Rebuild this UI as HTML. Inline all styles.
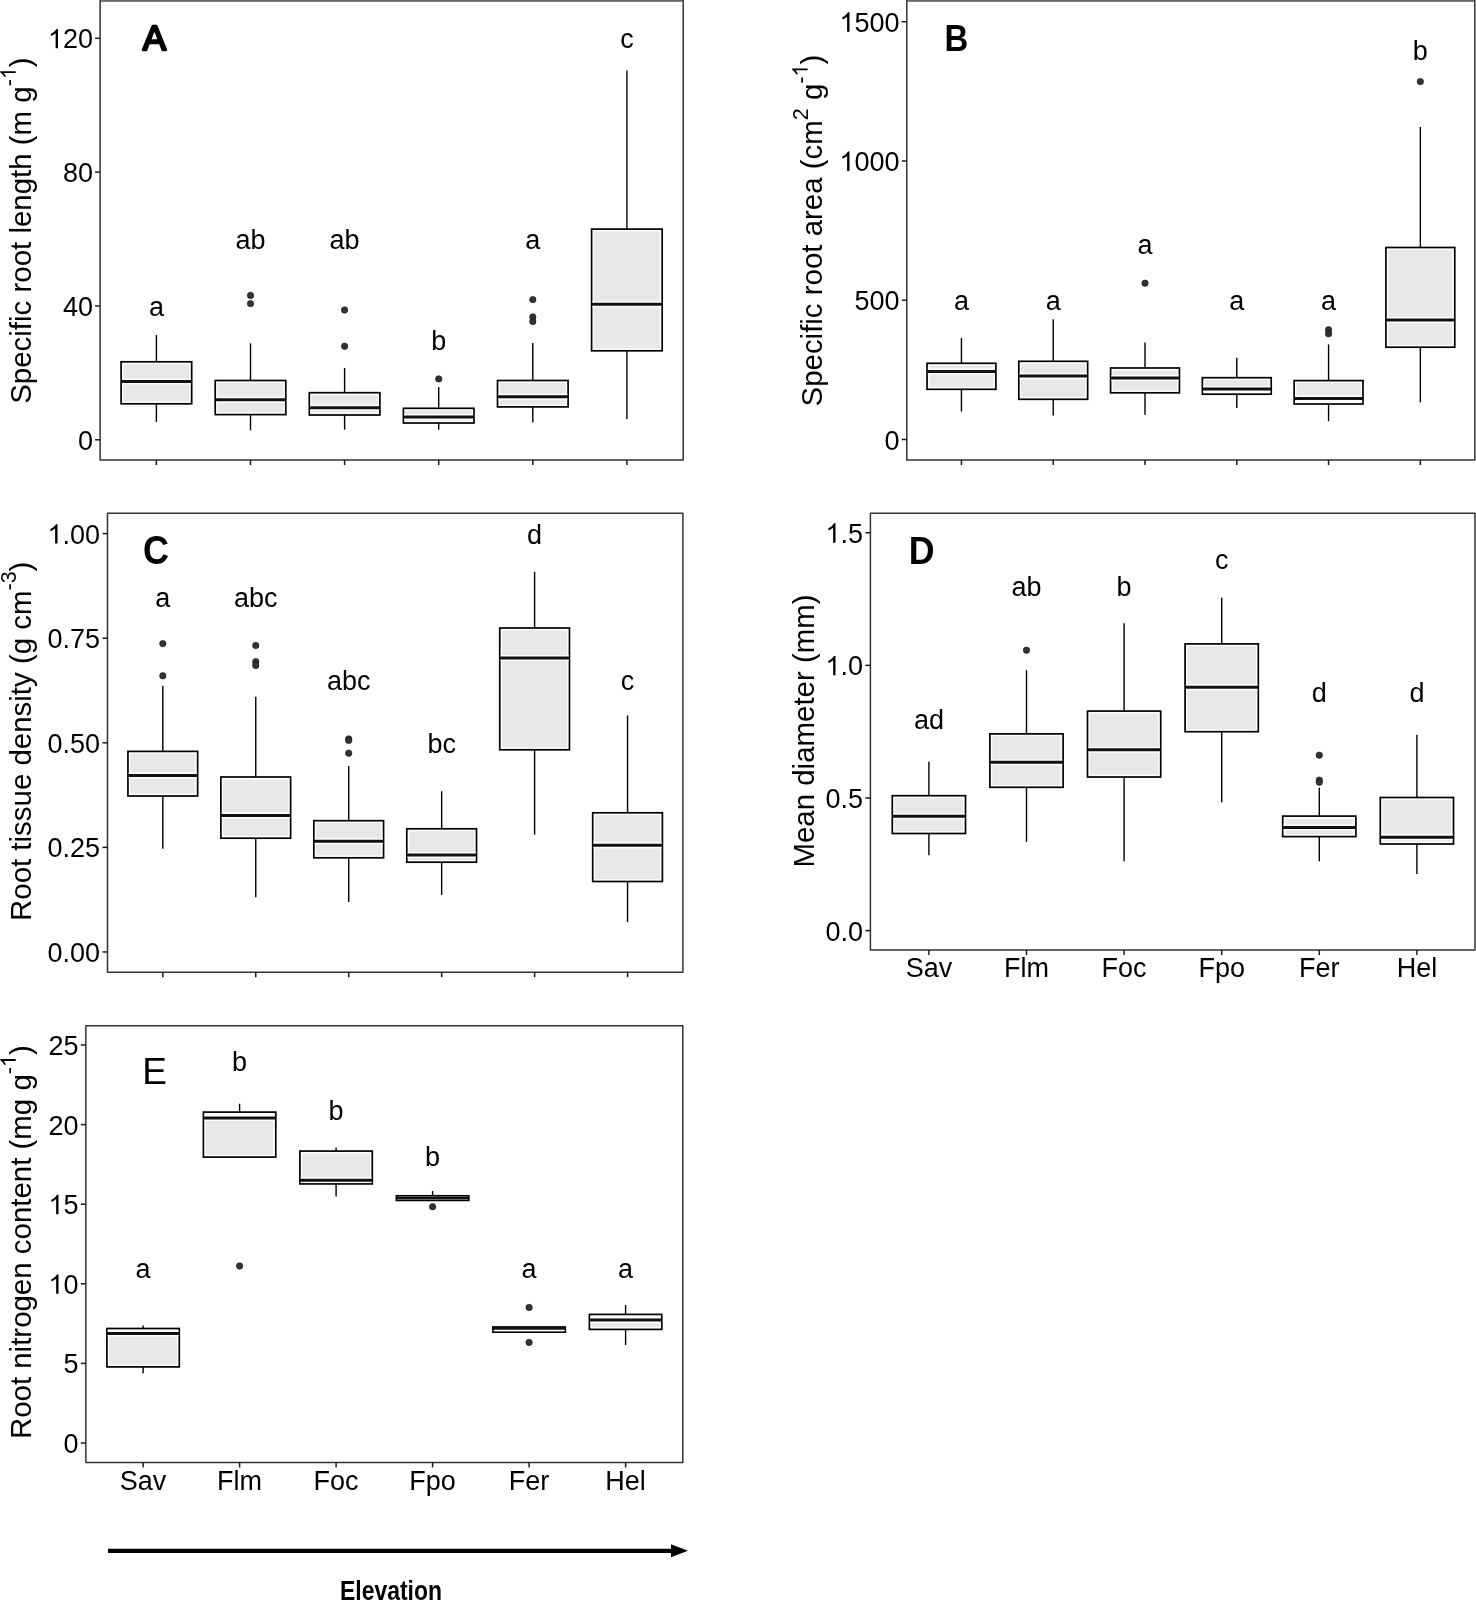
<!DOCTYPE html><html><head><meta charset="utf-8"><style>html,body{margin:0;padding:0;background:#fff;}svg{display:block;filter:grayscale(1)}text{font-family:"Liberation Sans",sans-serif;fill:#000}</style></head><body>
<svg width="1476" height="1601" viewBox="0 0 1476 1601">
<rect width="1476" height="1601" fill="#fff"/>
<g id="pA">
<line x1="156.4" y1="335" x2="156.4" y2="361.8" stroke="#000" stroke-width="1.4"/>
<line x1="156.4" y1="403.8" x2="156.4" y2="421.9" stroke="#000" stroke-width="1.4"/>
<rect x="121.11" y="361.8" width="70.57" height="42" fill="#fff" stroke="#000" stroke-width="1.7"/>
<rect x="123.46" y="364.15" width="65.87" height="37.3" fill="#e8e8e8"/>
<rect x="121.96" y="378.4" width="68.87" height="6" fill="#fff"/>
<line x1="121.11" y1="381.4" x2="191.69" y2="381.4" stroke="#111" stroke-width="3.0"/>
<text x="156.4" y="316" font-size="27" text-anchor="middle">a</text>
<line x1="250.5" y1="343.3" x2="250.5" y2="380.5" stroke="#000" stroke-width="1.4"/>
<line x1="250.5" y1="414.6" x2="250.5" y2="430.3" stroke="#000" stroke-width="1.4"/>
<rect x="215.21" y="380.5" width="70.57" height="34.1" fill="#fff" stroke="#000" stroke-width="1.7"/>
<rect x="217.56" y="382.85" width="65.87" height="29.4" fill="#e8e8e8"/>
<rect x="216.06" y="396.8" width="68.87" height="6" fill="#fff"/>
<line x1="215.21" y1="399.8" x2="285.79" y2="399.8" stroke="#111" stroke-width="3.0"/>
<circle cx="250.5" cy="295.4" r="3.2" fill="#333" stroke="#111" stroke-width="0.6"/>
<circle cx="250.5" cy="303.6" r="3.2" fill="#333" stroke="#111" stroke-width="0.6"/>
<text x="250.5" y="249" font-size="27" text-anchor="middle">ab</text>
<line x1="344.6" y1="367.9" x2="344.6" y2="392.7" stroke="#000" stroke-width="1.4"/>
<line x1="344.6" y1="415" x2="344.6" y2="429.7" stroke="#000" stroke-width="1.4"/>
<rect x="309.31" y="392.7" width="70.57" height="22.3" fill="#fff" stroke="#000" stroke-width="1.7"/>
<rect x="311.66" y="395.05" width="65.87" height="17.6" fill="#e8e8e8"/>
<rect x="310.16" y="404.7" width="68.87" height="6" fill="#fff"/>
<line x1="309.31" y1="407.7" x2="379.89" y2="407.7" stroke="#111" stroke-width="3.0"/>
<circle cx="344.6" cy="310" r="3.2" fill="#333" stroke="#111" stroke-width="0.6"/>
<circle cx="344.6" cy="346.3" r="3.2" fill="#333" stroke="#111" stroke-width="0.6"/>
<text x="344.6" y="249" font-size="27" text-anchor="middle">ab</text>
<line x1="438.7" y1="387" x2="438.7" y2="408.3" stroke="#000" stroke-width="1.4"/>
<line x1="438.7" y1="423" x2="438.7" y2="429.7" stroke="#000" stroke-width="1.4"/>
<rect x="403.41" y="408.3" width="70.57" height="14.7" fill="#fff" stroke="#000" stroke-width="1.7"/>
<rect x="405.76" y="410.65" width="65.87" height="10" fill="#e8e8e8"/>
<rect x="404.26" y="414.1" width="68.87" height="6" fill="#fff"/>
<line x1="403.41" y1="417.1" x2="473.99" y2="417.1" stroke="#111" stroke-width="3.0"/>
<circle cx="438.7" cy="378.9" r="3.2" fill="#333" stroke="#111" stroke-width="0.6"/>
<text x="438.7" y="349.5" font-size="27" text-anchor="middle">b</text>
<line x1="532.8" y1="342.9" x2="532.8" y2="380.5" stroke="#000" stroke-width="1.4"/>
<line x1="532.8" y1="406.9" x2="532.8" y2="422.6" stroke="#000" stroke-width="1.4"/>
<rect x="497.51" y="380.5" width="70.57" height="26.4" fill="#fff" stroke="#000" stroke-width="1.7"/>
<rect x="499.86" y="382.85" width="65.87" height="21.7" fill="#e8e8e8"/>
<rect x="498.36" y="393.7" width="68.87" height="6" fill="#fff"/>
<line x1="497.51" y1="396.7" x2="568.09" y2="396.7" stroke="#111" stroke-width="3.0"/>
<circle cx="532.8" cy="299.6" r="3.2" fill="#333" stroke="#111" stroke-width="0.6"/>
<circle cx="532.8" cy="316.9" r="3.2" fill="#333" stroke="#111" stroke-width="0.6"/>
<circle cx="532.8" cy="321.5" r="3.2" fill="#333" stroke="#111" stroke-width="0.6"/>
<text x="532.8" y="249" font-size="27" text-anchor="middle">a</text>
<line x1="626.9" y1="70.5" x2="626.9" y2="229.1" stroke="#000" stroke-width="1.4"/>
<line x1="626.9" y1="350.8" x2="626.9" y2="418.9" stroke="#000" stroke-width="1.4"/>
<rect x="591.61" y="229.1" width="70.57" height="121.7" fill="#fff" stroke="#000" stroke-width="1.7"/>
<rect x="593.96" y="231.45" width="65.87" height="117" fill="#e8e8e8"/>
<rect x="592.46" y="301.3" width="68.87" height="6" fill="#fff"/>
<line x1="591.61" y1="304.3" x2="662.19" y2="304.3" stroke="#111" stroke-width="3.0"/>
<text x="626.9" y="48" font-size="27" text-anchor="middle">c</text>
<rect x="100.1" y="0.6" width="583.1" height="459.5" fill="none" stroke="#333" stroke-width="1.5" stroke-linejoin="round"/>
<line x1="100.85" y1="0.9" x2="682.45" y2="0.9" stroke="#6a6a6a" stroke-width="1.8"/>
<line x1="95.1" y1="439.8" x2="100.1" y2="439.8" stroke="#1a1a1a" stroke-width="1.5"/>
<text class="one" x="93" y="449.8" font-size="27" text-anchor="end">0</text>
<line x1="95.1" y1="305.97" x2="100.1" y2="305.97" stroke="#1a1a1a" stroke-width="1.5"/>
<text class="one" x="93" y="315.97" font-size="27" text-anchor="end">40</text>
<line x1="95.1" y1="172.13" x2="100.1" y2="172.13" stroke="#1a1a1a" stroke-width="1.5"/>
<text class="one" x="93" y="182.13" font-size="27" text-anchor="end">80</text>
<line x1="95.1" y1="38.3" x2="100.1" y2="38.3" stroke="#1a1a1a" stroke-width="1.5"/>
<text class="one" x="93" y="48.3" font-size="27" text-anchor="end"> 20</text>
<line x1="156.4" y1="460.1" x2="156.4" y2="465.1" stroke="#1a1a1a" stroke-width="1.5"/>
<line x1="250.5" y1="460.1" x2="250.5" y2="465.1" stroke="#1a1a1a" stroke-width="1.5"/>
<line x1="344.6" y1="460.1" x2="344.6" y2="465.1" stroke="#1a1a1a" stroke-width="1.5"/>
<line x1="438.7" y1="460.1" x2="438.7" y2="465.1" stroke="#1a1a1a" stroke-width="1.5"/>
<line x1="532.8" y1="460.1" x2="532.8" y2="465.1" stroke="#1a1a1a" stroke-width="1.5"/>
<line x1="626.9" y1="460.1" x2="626.9" y2="465.1" stroke="#1a1a1a" stroke-width="1.5"/>
<text class="one" transform="translate(30.5,230.6) rotate(-90)" font-size="29.45" text-anchor="middle">Specific root length (m g<tspan dy="-14.8" font-size="21.5">- </tspan><tspan dy="14.8">)</tspan></text>
<text transform="translate(142.8,49.9) scale(1,1.0)" font-size="35" font-weight="normal" stroke="#000" stroke-width="2.3" stroke-linejoin="round">A</text>
</g>
<g id="pB">
<line x1="961.45" y1="337.9" x2="961.45" y2="363.3" stroke="#000" stroke-width="1.4"/>
<line x1="961.45" y1="389.3" x2="961.45" y2="411.5" stroke="#000" stroke-width="1.4"/>
<rect x="927.03" y="363.3" width="68.84" height="26" fill="#fff" stroke="#000" stroke-width="1.7"/>
<rect x="929.38" y="365.65" width="64.14" height="21.3" fill="#e8e8e8"/>
<rect x="927.88" y="368.4" width="67.14" height="6" fill="#fff"/>
<line x1="927.03" y1="371.4" x2="995.87" y2="371.4" stroke="#111" stroke-width="3.0"/>
<text x="961.45" y="310" font-size="27" text-anchor="middle">a</text>
<line x1="1053.23" y1="319.2" x2="1053.23" y2="361.3" stroke="#000" stroke-width="1.4"/>
<line x1="1053.23" y1="399.3" x2="1053.23" y2="415.5" stroke="#000" stroke-width="1.4"/>
<rect x="1018.81" y="361.3" width="68.84" height="38" fill="#fff" stroke="#000" stroke-width="1.7"/>
<rect x="1021.16" y="363.65" width="64.14" height="33.3" fill="#e8e8e8"/>
<rect x="1019.66" y="373.1" width="67.14" height="6" fill="#fff"/>
<line x1="1018.81" y1="376.1" x2="1087.65" y2="376.1" stroke="#111" stroke-width="3.0"/>
<text x="1053.23" y="310" font-size="27" text-anchor="middle">a</text>
<line x1="1145.01" y1="342.6" x2="1145.01" y2="368" stroke="#000" stroke-width="1.4"/>
<line x1="1145.01" y1="392.8" x2="1145.01" y2="414.7" stroke="#000" stroke-width="1.4"/>
<rect x="1110.59" y="368" width="68.84" height="24.8" fill="#fff" stroke="#000" stroke-width="1.7"/>
<rect x="1112.94" y="370.35" width="64.14" height="20.1" fill="#e8e8e8"/>
<rect x="1111.44" y="375.1" width="67.14" height="6" fill="#fff"/>
<line x1="1110.59" y1="378.1" x2="1179.43" y2="378.1" stroke="#111" stroke-width="3.0"/>
<circle cx="1145.01" cy="283.2" r="3.2" fill="#333" stroke="#111" stroke-width="0.6"/>
<text x="1145.01" y="254.3" font-size="27" text-anchor="middle">a</text>
<line x1="1236.79" y1="357.8" x2="1236.79" y2="377.7" stroke="#000" stroke-width="1.4"/>
<line x1="1236.79" y1="394.2" x2="1236.79" y2="408" stroke="#000" stroke-width="1.4"/>
<rect x="1202.37" y="377.7" width="68.84" height="16.5" fill="#fff" stroke="#000" stroke-width="1.7"/>
<rect x="1204.72" y="380.05" width="64.14" height="11.8" fill="#e8e8e8"/>
<rect x="1203.22" y="386.1" width="67.14" height="6" fill="#fff"/>
<line x1="1202.37" y1="389.1" x2="1271.21" y2="389.1" stroke="#111" stroke-width="3.0"/>
<text x="1236.79" y="310" font-size="27" text-anchor="middle">a</text>
<line x1="1328.57" y1="344.4" x2="1328.57" y2="380.6" stroke="#000" stroke-width="1.4"/>
<line x1="1328.57" y1="404" x2="1328.57" y2="421.2" stroke="#000" stroke-width="1.4"/>
<rect x="1294.15" y="380.6" width="68.84" height="23.4" fill="#fff" stroke="#000" stroke-width="1.7"/>
<rect x="1296.5" y="382.95" width="64.14" height="18.7" fill="#e8e8e8"/>
<rect x="1295" y="395.5" width="67.14" height="6" fill="#fff"/>
<line x1="1294.15" y1="398.5" x2="1362.99" y2="398.5" stroke="#111" stroke-width="3.0"/>
<circle cx="1328.57" cy="329.8" r="3.2" fill="#333" stroke="#111" stroke-width="0.6"/>
<circle cx="1328.57" cy="333.8" r="3.2" fill="#333" stroke="#111" stroke-width="0.6"/>
<text x="1328.57" y="310" font-size="27" text-anchor="middle">a</text>
<line x1="1420.35" y1="126.9" x2="1420.35" y2="247.5" stroke="#000" stroke-width="1.4"/>
<line x1="1420.35" y1="347.2" x2="1420.35" y2="402.3" stroke="#000" stroke-width="1.4"/>
<rect x="1385.93" y="247.5" width="68.84" height="99.7" fill="#fff" stroke="#000" stroke-width="1.7"/>
<rect x="1388.28" y="249.85" width="64.14" height="95" fill="#e8e8e8"/>
<rect x="1386.78" y="317" width="67.14" height="6" fill="#fff"/>
<line x1="1385.93" y1="320" x2="1454.77" y2="320" stroke="#111" stroke-width="3.0"/>
<circle cx="1420.35" cy="81.6" r="3.2" fill="#333" stroke="#111" stroke-width="0.6"/>
<text x="1420.35" y="60.3" font-size="27" text-anchor="middle">b</text>
<rect x="906.8" y="0.6" width="568" height="459.5" fill="none" stroke="#333" stroke-width="1.5" stroke-linejoin="round"/>
<line x1="907.55" y1="0.9" x2="1474.05" y2="0.9" stroke="#6a6a6a" stroke-width="1.8"/>
<line x1="901.8" y1="439.5" x2="906.8" y2="439.5" stroke="#1a1a1a" stroke-width="1.5"/>
<text class="one" x="899.5" y="449.5" font-size="27" text-anchor="end">0</text>
<line x1="901.8" y1="300.25" x2="906.8" y2="300.25" stroke="#1a1a1a" stroke-width="1.5"/>
<text class="one" x="899.5" y="310.25" font-size="27" text-anchor="end">500</text>
<line x1="901.8" y1="161" x2="906.8" y2="161" stroke="#1a1a1a" stroke-width="1.5"/>
<text class="one" x="899.5" y="171" font-size="27" text-anchor="end"> 000</text>
<line x1="901.8" y1="21.75" x2="906.8" y2="21.75" stroke="#1a1a1a" stroke-width="1.5"/>
<text class="one" x="899.5" y="31.75" font-size="27" text-anchor="end"> 500</text>
<line x1="961.45" y1="460.1" x2="961.45" y2="465.1" stroke="#1a1a1a" stroke-width="1.5"/>
<line x1="1053.23" y1="460.1" x2="1053.23" y2="465.1" stroke="#1a1a1a" stroke-width="1.5"/>
<line x1="1145.01" y1="460.1" x2="1145.01" y2="465.1" stroke="#1a1a1a" stroke-width="1.5"/>
<line x1="1236.79" y1="460.1" x2="1236.79" y2="465.1" stroke="#1a1a1a" stroke-width="1.5"/>
<line x1="1328.57" y1="460.1" x2="1328.57" y2="465.1" stroke="#1a1a1a" stroke-width="1.5"/>
<line x1="1420.35" y1="460.1" x2="1420.35" y2="465.1" stroke="#1a1a1a" stroke-width="1.5"/>
<text class="one" transform="translate(822.4,230.6) rotate(-90)" font-size="29.45" text-anchor="middle">Specific root area (cm<tspan dy="-14.8" font-size="21.5">2</tspan><tspan dy="14.8"> g</tspan><tspan dy="-14.8" font-size="21.5">- </tspan><tspan dy="14.8">)</tspan></text>
<text transform="translate(944.6,50.6) scale(0.89,1.02)" font-size="37" font-weight="bold">B</text>
</g>
<g id="pC">
<line x1="162.8" y1="685.8" x2="162.8" y2="751.4" stroke="#000" stroke-width="1.4"/>
<line x1="162.8" y1="796" x2="162.8" y2="848.8" stroke="#000" stroke-width="1.4"/>
<rect x="127.94" y="751.4" width="69.71" height="44.6" fill="#fff" stroke="#000" stroke-width="1.7"/>
<rect x="130.29" y="753.75" width="65.01" height="39.9" fill="#e8e8e8"/>
<rect x="128.79" y="772.4" width="68.01" height="6" fill="#fff"/>
<line x1="127.94" y1="775.4" x2="197.66" y2="775.4" stroke="#111" stroke-width="3.0"/>
<circle cx="162.8" cy="643.6" r="3.2" fill="#333" stroke="#111" stroke-width="0.6"/>
<circle cx="162.8" cy="675.8" r="3.2" fill="#333" stroke="#111" stroke-width="0.6"/>
<text x="162.8" y="606.5" font-size="27" text-anchor="middle">a</text>
<line x1="255.75" y1="696.7" x2="255.75" y2="777" stroke="#000" stroke-width="1.4"/>
<line x1="255.75" y1="838.2" x2="255.75" y2="897.2" stroke="#000" stroke-width="1.4"/>
<rect x="220.89" y="777" width="69.71" height="61.2" fill="#fff" stroke="#000" stroke-width="1.7"/>
<rect x="223.24" y="779.35" width="65.01" height="56.5" fill="#e8e8e8"/>
<rect x="221.74" y="812.4" width="68.01" height="6" fill="#fff"/>
<line x1="220.89" y1="815.4" x2="290.61" y2="815.4" stroke="#111" stroke-width="3.0"/>
<circle cx="255.75" cy="645.5" r="3.2" fill="#333" stroke="#111" stroke-width="0.6"/>
<circle cx="255.75" cy="661.7" r="3.2" fill="#333" stroke="#111" stroke-width="0.6"/>
<circle cx="255.75" cy="665.5" r="3.2" fill="#333" stroke="#111" stroke-width="0.6"/>
<text x="255.75" y="606.5" font-size="27" text-anchor="middle">abc</text>
<line x1="348.7" y1="766" x2="348.7" y2="820.7" stroke="#000" stroke-width="1.4"/>
<line x1="348.7" y1="857.8" x2="348.7" y2="901.9" stroke="#000" stroke-width="1.4"/>
<rect x="313.84" y="820.7" width="69.71" height="37.1" fill="#fff" stroke="#000" stroke-width="1.7"/>
<rect x="316.19" y="823.05" width="65.01" height="32.4" fill="#e8e8e8"/>
<rect x="314.69" y="838.3" width="68.01" height="6" fill="#fff"/>
<line x1="313.84" y1="841.3" x2="383.56" y2="841.3" stroke="#111" stroke-width="3.0"/>
<circle cx="348.7" cy="738.9" r="3.2" fill="#333" stroke="#111" stroke-width="0.6"/>
<circle cx="348.7" cy="740.4" r="3.2" fill="#333" stroke="#111" stroke-width="0.6"/>
<circle cx="348.7" cy="753.2" r="3.2" fill="#333" stroke="#111" stroke-width="0.6"/>
<text x="348.7" y="689.5" font-size="27" text-anchor="middle">abc</text>
<line x1="441.65" y1="791.3" x2="441.65" y2="828.8" stroke="#000" stroke-width="1.4"/>
<line x1="441.65" y1="862.2" x2="441.65" y2="894.9" stroke="#000" stroke-width="1.4"/>
<rect x="406.79" y="828.8" width="69.71" height="33.4" fill="#fff" stroke="#000" stroke-width="1.7"/>
<rect x="409.14" y="831.15" width="65.01" height="28.7" fill="#e8e8e8"/>
<rect x="407.64" y="852" width="68.01" height="6" fill="#fff"/>
<line x1="406.79" y1="855" x2="476.51" y2="855" stroke="#111" stroke-width="3.0"/>
<text x="441.65" y="752.5" font-size="27" text-anchor="middle">bc</text>
<line x1="534.6" y1="571.8" x2="534.6" y2="628" stroke="#000" stroke-width="1.4"/>
<line x1="534.6" y1="749.8" x2="534.6" y2="834.7" stroke="#000" stroke-width="1.4"/>
<rect x="499.74" y="628" width="69.71" height="121.8" fill="#fff" stroke="#000" stroke-width="1.7"/>
<rect x="502.09" y="630.35" width="65.01" height="117.1" fill="#e8e8e8"/>
<rect x="500.59" y="655" width="68.01" height="6" fill="#fff"/>
<line x1="499.74" y1="658" x2="569.46" y2="658" stroke="#111" stroke-width="3.0"/>
<text x="534.6" y="544" font-size="27" text-anchor="middle">d</text>
<line x1="627.55" y1="715.4" x2="627.55" y2="812.8" stroke="#000" stroke-width="1.4"/>
<line x1="627.55" y1="881.5" x2="627.55" y2="922.1" stroke="#000" stroke-width="1.4"/>
<rect x="592.69" y="812.8" width="69.71" height="68.7" fill="#fff" stroke="#000" stroke-width="1.7"/>
<rect x="595.04" y="815.15" width="65.01" height="64" fill="#e8e8e8"/>
<rect x="593.54" y="842.3" width="68.01" height="6" fill="#fff"/>
<line x1="592.69" y1="845.3" x2="662.41" y2="845.3" stroke="#111" stroke-width="3.0"/>
<text x="627.55" y="689.5" font-size="27" text-anchor="middle">c</text>
<rect x="107.5" y="513.3" width="575.4" height="458.9" fill="none" stroke="#333" stroke-width="1.5" stroke-linejoin="round"/>
<line x1="102.5" y1="951.95" x2="107.5" y2="951.95" stroke="#1a1a1a" stroke-width="1.5"/>
<text class="one" x="100" y="961.95" font-size="27" text-anchor="end">0.00</text>
<line x1="102.5" y1="847.36" x2="107.5" y2="847.36" stroke="#1a1a1a" stroke-width="1.5"/>
<text class="one" x="100" y="857.36" font-size="27" text-anchor="end">0.25</text>
<line x1="102.5" y1="742.78" x2="107.5" y2="742.78" stroke="#1a1a1a" stroke-width="1.5"/>
<text class="one" x="100" y="752.78" font-size="27" text-anchor="end">0.50</text>
<line x1="102.5" y1="638.19" x2="107.5" y2="638.19" stroke="#1a1a1a" stroke-width="1.5"/>
<text class="one" x="100" y="648.19" font-size="27" text-anchor="end">0.75</text>
<line x1="102.5" y1="533.6" x2="107.5" y2="533.6" stroke="#1a1a1a" stroke-width="1.5"/>
<text class="one" x="100" y="543.6" font-size="27" text-anchor="end"> .00</text>
<line x1="162.8" y1="972.2" x2="162.8" y2="977.2" stroke="#1a1a1a" stroke-width="1.5"/>
<line x1="255.75" y1="972.2" x2="255.75" y2="977.2" stroke="#1a1a1a" stroke-width="1.5"/>
<line x1="348.7" y1="972.2" x2="348.7" y2="977.2" stroke="#1a1a1a" stroke-width="1.5"/>
<line x1="441.65" y1="972.2" x2="441.65" y2="977.2" stroke="#1a1a1a" stroke-width="1.5"/>
<line x1="534.6" y1="972.2" x2="534.6" y2="977.2" stroke="#1a1a1a" stroke-width="1.5"/>
<line x1="627.55" y1="972.2" x2="627.55" y2="977.2" stroke="#1a1a1a" stroke-width="1.5"/>
<text class="one" transform="translate(30.5,741.3) rotate(-90)" font-size="29.45" text-anchor="middle">Root tissue density (g cm<tspan dy="-14.8" font-size="21.5">-3</tspan><tspan dy="14.8">)</tspan></text>
<text transform="translate(143.0,564.3) scale(0.9,1)" font-size="40" font-weight="bold">C</text>
</g>
<g id="pD">
<line x1="928.9" y1="761.7" x2="928.9" y2="795.7" stroke="#000" stroke-width="1.4"/>
<line x1="928.9" y1="833.5" x2="928.9" y2="855.3" stroke="#000" stroke-width="1.4"/>
<rect x="892.3" y="795.7" width="73.2" height="37.8" fill="#fff" stroke="#000" stroke-width="1.7"/>
<rect x="894.65" y="798.05" width="68.5" height="33.1" fill="#e8e8e8"/>
<rect x="893.15" y="813.3" width="71.5" height="6" fill="#fff"/>
<line x1="892.3" y1="816.3" x2="965.5" y2="816.3" stroke="#111" stroke-width="3.0"/>
<text x="928.9" y="728.5" font-size="27" text-anchor="middle">ad</text>
<line x1="1026.5" y1="670.2" x2="1026.5" y2="733.9" stroke="#000" stroke-width="1.4"/>
<line x1="1026.5" y1="787.3" x2="1026.5" y2="841.9" stroke="#000" stroke-width="1.4"/>
<rect x="989.9" y="733.9" width="73.2" height="53.4" fill="#fff" stroke="#000" stroke-width="1.7"/>
<rect x="992.25" y="736.25" width="68.5" height="48.7" fill="#e8e8e8"/>
<rect x="990.75" y="759.3" width="71.5" height="6" fill="#fff"/>
<line x1="989.9" y1="762.3" x2="1063.1" y2="762.3" stroke="#111" stroke-width="3.0"/>
<circle cx="1026.5" cy="650.2" r="3.2" fill="#333" stroke="#111" stroke-width="0.6"/>
<text x="1026.5" y="595.5" font-size="27" text-anchor="middle">ab</text>
<line x1="1124.1" y1="623.3" x2="1124.1" y2="711.1" stroke="#000" stroke-width="1.4"/>
<line x1="1124.1" y1="777" x2="1124.1" y2="861.3" stroke="#000" stroke-width="1.4"/>
<rect x="1087.5" y="711.1" width="73.2" height="65.9" fill="#fff" stroke="#000" stroke-width="1.7"/>
<rect x="1089.85" y="713.45" width="68.5" height="61.2" fill="#e8e8e8"/>
<rect x="1088.35" y="746.8" width="71.5" height="6" fill="#fff"/>
<line x1="1087.5" y1="749.8" x2="1160.7" y2="749.8" stroke="#111" stroke-width="3.0"/>
<text x="1124.1" y="595.5" font-size="27" text-anchor="middle">b</text>
<line x1="1221.7" y1="597.7" x2="1221.7" y2="643.9" stroke="#000" stroke-width="1.4"/>
<line x1="1221.7" y1="731.7" x2="1221.7" y2="802.2" stroke="#000" stroke-width="1.4"/>
<rect x="1185.1" y="643.9" width="73.2" height="87.8" fill="#fff" stroke="#000" stroke-width="1.7"/>
<rect x="1187.45" y="646.25" width="68.5" height="83.1" fill="#e8e8e8"/>
<rect x="1185.95" y="684.3" width="71.5" height="6" fill="#fff"/>
<line x1="1185.1" y1="687.3" x2="1258.3" y2="687.3" stroke="#111" stroke-width="3.0"/>
<text x="1221.7" y="568.5" font-size="27" text-anchor="middle">c</text>
<line x1="1319.3" y1="787.7" x2="1319.3" y2="816.1" stroke="#000" stroke-width="1.4"/>
<line x1="1319.3" y1="836.6" x2="1319.3" y2="861.2" stroke="#000" stroke-width="1.4"/>
<rect x="1282.7" y="816.1" width="73.2" height="20.5" fill="#fff" stroke="#000" stroke-width="1.7"/>
<rect x="1285.05" y="818.45" width="68.5" height="15.8" fill="#e8e8e8"/>
<rect x="1283.55" y="824.5" width="71.5" height="6" fill="#fff"/>
<line x1="1282.7" y1="827.5" x2="1355.9" y2="827.5" stroke="#111" stroke-width="3.0"/>
<circle cx="1319.3" cy="755.2" r="3.2" fill="#333" stroke="#111" stroke-width="0.6"/>
<circle cx="1319.3" cy="780.1" r="3.2" fill="#333" stroke="#111" stroke-width="0.6"/>
<circle cx="1319.3" cy="782.3" r="3.2" fill="#333" stroke="#111" stroke-width="0.6"/>
<text x="1319.3" y="702" font-size="27" text-anchor="middle">d</text>
<line x1="1416.9" y1="734.8" x2="1416.9" y2="797.5" stroke="#000" stroke-width="1.4"/>
<line x1="1416.9" y1="844" x2="1416.9" y2="874" stroke="#000" stroke-width="1.4"/>
<rect x="1380.3" y="797.5" width="73.2" height="46.5" fill="#fff" stroke="#000" stroke-width="1.7"/>
<rect x="1382.65" y="799.85" width="68.5" height="41.8" fill="#e8e8e8"/>
<rect x="1381.15" y="834.2" width="71.5" height="6" fill="#fff"/>
<line x1="1380.3" y1="837.2" x2="1453.5" y2="837.2" stroke="#111" stroke-width="3.0"/>
<text x="1416.9" y="702" font-size="27" text-anchor="middle">d</text>
<rect x="870.4" y="513.2" width="604.6" height="436.9" fill="none" stroke="#333" stroke-width="1.5" stroke-linejoin="round"/>
<line x1="865.4" y1="930.6" x2="870.4" y2="930.6" stroke="#1a1a1a" stroke-width="1.5"/>
<text class="one" x="863" y="940.6" font-size="27" text-anchor="end">0.0</text>
<line x1="865.4" y1="797.98" x2="870.4" y2="797.98" stroke="#1a1a1a" stroke-width="1.5"/>
<text class="one" x="863" y="807.98" font-size="27" text-anchor="end">0.5</text>
<line x1="865.4" y1="665.37" x2="870.4" y2="665.37" stroke="#1a1a1a" stroke-width="1.5"/>
<text class="one" x="863" y="675.37" font-size="27" text-anchor="end"> .0</text>
<line x1="865.4" y1="532.75" x2="870.4" y2="532.75" stroke="#1a1a1a" stroke-width="1.5"/>
<text class="one" x="863" y="542.75" font-size="27" text-anchor="end"> .5</text>
<line x1="928.9" y1="950.1" x2="928.9" y2="955.1" stroke="#1a1a1a" stroke-width="1.5"/>
<text x="928.9" y="977.3" font-size="27" text-anchor="middle">Sav</text>
<line x1="1026.5" y1="950.1" x2="1026.5" y2="955.1" stroke="#1a1a1a" stroke-width="1.5"/>
<text x="1026.5" y="977.3" font-size="27" text-anchor="middle">Flm</text>
<line x1="1124.1" y1="950.1" x2="1124.1" y2="955.1" stroke="#1a1a1a" stroke-width="1.5"/>
<text x="1124.1" y="977.3" font-size="27" text-anchor="middle">Foc</text>
<line x1="1221.7" y1="950.1" x2="1221.7" y2="955.1" stroke="#1a1a1a" stroke-width="1.5"/>
<text x="1221.7" y="977.3" font-size="27" text-anchor="middle">Fpo</text>
<line x1="1319.3" y1="950.1" x2="1319.3" y2="955.1" stroke="#1a1a1a" stroke-width="1.5"/>
<text x="1319.3" y="977.3" font-size="27" text-anchor="middle">Fer</text>
<line x1="1416.9" y1="950.1" x2="1416.9" y2="955.1" stroke="#1a1a1a" stroke-width="1.5"/>
<text x="1416.9" y="977.3" font-size="27" text-anchor="middle">Hel</text>
<text class="one" transform="translate(814.3,731) rotate(-90)" font-size="29.45" text-anchor="middle">Mean diameter (mm)</text>
<text transform="translate(908.8,564.1) scale(0.93,1)" font-size="38.5" font-weight="bold">D</text>
</g>
<g id="pE">
<line x1="143.1" y1="1325.4" x2="143.1" y2="1328.5" stroke="#000" stroke-width="1.4"/>
<line x1="143.1" y1="1366.9" x2="143.1" y2="1373.2" stroke="#000" stroke-width="1.4"/>
<rect x="106.91" y="1328.5" width="72.38" height="38.4" fill="#fff" stroke="#000" stroke-width="1.7"/>
<rect x="109.26" y="1330.85" width="67.67" height="33.7" fill="#e8e8e8"/>
<rect x="107.76" y="1330.5" width="70.67" height="6" fill="#fff"/>
<line x1="106.91" y1="1333.5" x2="179.29" y2="1333.5" stroke="#111" stroke-width="3.0"/>
<text x="143.1" y="1278" font-size="27" text-anchor="middle">a</text>
<line x1="239.6" y1="1103.7" x2="239.6" y2="1112.1" stroke="#000" stroke-width="1.4"/>
<rect x="203.41" y="1112.1" width="72.38" height="45" fill="#fff" stroke="#000" stroke-width="1.7"/>
<rect x="205.76" y="1114.45" width="67.67" height="40.3" fill="#e8e8e8"/>
<rect x="204.26" y="1115" width="70.67" height="6" fill="#fff"/>
<line x1="203.41" y1="1118" x2="275.79" y2="1118" stroke="#111" stroke-width="3.0"/>
<circle cx="239.6" cy="1266" r="3.2" fill="#333" stroke="#111" stroke-width="0.6"/>
<text x="239.6" y="1071.2" font-size="27" text-anchor="middle">b</text>
<line x1="336.1" y1="1147.4" x2="336.1" y2="1151.1" stroke="#000" stroke-width="1.4"/>
<line x1="336.1" y1="1183.9" x2="336.1" y2="1196.4" stroke="#000" stroke-width="1.4"/>
<rect x="299.91" y="1151.1" width="72.38" height="32.8" fill="#fff" stroke="#000" stroke-width="1.7"/>
<rect x="302.26" y="1153.45" width="67.67" height="28.1" fill="#e8e8e8"/>
<rect x="300.76" y="1177.2" width="70.67" height="5.85" fill="#fff"/>
<line x1="299.91" y1="1180.2" x2="372.29" y2="1180.2" stroke="#111" stroke-width="3.0"/>
<text x="336.1" y="1119.5" font-size="27" text-anchor="middle">b</text>
<line x1="432.6" y1="1191" x2="432.6" y2="1195.8" stroke="#000" stroke-width="1.4"/>
<rect x="396.41" y="1195.8" width="72.38" height="4.6" fill="#fff" stroke="#000" stroke-width="1.7"/>
<rect x="397.26" y="1196.65" width="70.67" height="2.9" fill="#fff"/>
<line x1="396.41" y1="1198" x2="468.79" y2="1198" stroke="#111" stroke-width="3.0"/>
<circle cx="432.6" cy="1206.7" r="3.2" fill="#333" stroke="#111" stroke-width="0.6"/>
<text x="432.6" y="1165.5" font-size="27" text-anchor="middle">b</text>
<rect x="492.91" y="1327" width="72.38" height="5.1" fill="#fff" stroke="#000" stroke-width="1.7"/>
<rect x="495.26" y="1329.35" width="67.67" height="0.4" fill="#e8e8e8"/>
<rect x="493.76" y="1327.85" width="70.67" height="3.35" fill="#fff"/>
<line x1="492.91" y1="1328.2" x2="565.29" y2="1328.2" stroke="#111" stroke-width="3.0"/>
<circle cx="529.1" cy="1307.5" r="3.2" fill="#333" stroke="#111" stroke-width="0.6"/>
<circle cx="529.1" cy="1342.4" r="3.2" fill="#333" stroke="#111" stroke-width="0.6"/>
<text x="529.1" y="1278" font-size="27" text-anchor="middle">a</text>
<line x1="625.6" y1="1305" x2="625.6" y2="1314.4" stroke="#000" stroke-width="1.4"/>
<line x1="625.6" y1="1329.4" x2="625.6" y2="1345" stroke="#000" stroke-width="1.4"/>
<rect x="589.41" y="1314.4" width="72.38" height="15" fill="#fff" stroke="#000" stroke-width="1.7"/>
<rect x="591.76" y="1316.75" width="67.67" height="10.3" fill="#e8e8e8"/>
<rect x="590.26" y="1317" width="70.67" height="6" fill="#fff"/>
<line x1="589.41" y1="1320" x2="661.79" y2="1320" stroke="#111" stroke-width="3.0"/>
<text x="625.6" y="1278" font-size="27" text-anchor="middle">a</text>
<rect x="85.85" y="1025.65" width="596.95" height="436.85" fill="none" stroke="#333" stroke-width="1.5" stroke-linejoin="round"/>
<line x1="80.85" y1="1443" x2="85.85" y2="1443" stroke="#1a1a1a" stroke-width="1.5"/>
<text class="one" x="78.5" y="1453" font-size="27" text-anchor="end">0</text>
<line x1="80.85" y1="1363.4" x2="85.85" y2="1363.4" stroke="#1a1a1a" stroke-width="1.5"/>
<text class="one" x="78.5" y="1373.4" font-size="27" text-anchor="end">5</text>
<line x1="80.85" y1="1283.8" x2="85.85" y2="1283.8" stroke="#1a1a1a" stroke-width="1.5"/>
<text class="one" x="78.5" y="1293.8" font-size="27" text-anchor="end"> 0</text>
<line x1="80.85" y1="1204.2" x2="85.85" y2="1204.2" stroke="#1a1a1a" stroke-width="1.5"/>
<text class="one" x="78.5" y="1214.2" font-size="27" text-anchor="end"> 5</text>
<line x1="80.85" y1="1124.6" x2="85.85" y2="1124.6" stroke="#1a1a1a" stroke-width="1.5"/>
<text class="one" x="78.5" y="1134.6" font-size="27" text-anchor="end">20</text>
<line x1="80.85" y1="1045" x2="85.85" y2="1045" stroke="#1a1a1a" stroke-width="1.5"/>
<text class="one" x="78.5" y="1055" font-size="27" text-anchor="end">25</text>
<line x1="143.1" y1="1462.5" x2="143.1" y2="1467.5" stroke="#1a1a1a" stroke-width="1.5"/>
<text x="143.1" y="1489.5" font-size="27" text-anchor="middle">Sav</text>
<line x1="239.6" y1="1462.5" x2="239.6" y2="1467.5" stroke="#1a1a1a" stroke-width="1.5"/>
<text x="239.6" y="1489.5" font-size="27" text-anchor="middle">Flm</text>
<line x1="336.1" y1="1462.5" x2="336.1" y2="1467.5" stroke="#1a1a1a" stroke-width="1.5"/>
<text x="336.1" y="1489.5" font-size="27" text-anchor="middle">Foc</text>
<line x1="432.6" y1="1462.5" x2="432.6" y2="1467.5" stroke="#1a1a1a" stroke-width="1.5"/>
<text x="432.6" y="1489.5" font-size="27" text-anchor="middle">Fpo</text>
<line x1="529.1" y1="1462.5" x2="529.1" y2="1467.5" stroke="#1a1a1a" stroke-width="1.5"/>
<text x="529.1" y="1489.5" font-size="27" text-anchor="middle">Fer</text>
<line x1="625.6" y1="1462.5" x2="625.6" y2="1467.5" stroke="#1a1a1a" stroke-width="1.5"/>
<text x="625.6" y="1489.5" font-size="27" text-anchor="middle">Hel</text>
<text class="one" transform="translate(30.5,1242.2) rotate(-90)" font-size="29.45" text-anchor="middle">Root nitrogen content (mg g<tspan dy="-14.8" font-size="21.5">- </tspan><tspan dy="14.8">)</tspan></text>
<text transform="translate(142.2,1083.6) scale(1,1)" font-size="37" font-weight="normal">E</text>
</g>
<line x1="108" y1="1550.8" x2="672" y2="1550.8" stroke="#000" stroke-width="4.2"/>
<polygon points="671,1544.2 688,1550.8 671,1557.3" fill="#000"/>
<text transform="translate(391,1599.8) scale(0.81,1)" font-size="28.3" font-weight="bold" text-anchor="middle">Elevation</text>
<g fill="#000"><path transform=" translate(47.94,48.30) scale(0.01318,-0.01318)" d="M763 0L583 0L583 1147Q518 1085 412 1023Q306 961 222 930L222 1104Q373 1175 486 1276Q599 1377 646 1472L763 1472Z"/><path transform="translate(30.5,230.6) rotate(-90) translate(151.40,-14.80) scale(0.01050,-0.01050)" d="M763 0L583 0L583 1147Q518 1085 412 1023Q306 961 222 930L222 1104Q373 1175 486 1276Q599 1377 646 1472L763 1472Z"/><path transform=" translate(839.42,171.00) scale(0.01318,-0.01318)" d="M763 0L583 0L583 1147Q518 1085 412 1023Q306 961 222 930L222 1104Q373 1175 486 1276Q599 1377 646 1472L763 1472Z"/><path transform=" translate(839.42,31.75) scale(0.01318,-0.01318)" d="M763 0L583 0L583 1147Q518 1085 412 1023Q306 961 222 930L222 1104Q373 1175 486 1276Q599 1377 646 1472L763 1472Z"/><path transform="translate(822.4,230.6) rotate(-90) translate(154.11,-14.80) scale(0.01050,-0.01050)" d="M763 0L583 0L583 1147Q518 1085 412 1023Q306 961 222 930L222 1104Q373 1175 486 1276Q599 1377 646 1472L763 1472Z"/><path transform=" translate(47.44,543.60) scale(0.01318,-0.01318)" d="M763 0L583 0L583 1147Q518 1085 412 1023Q306 961 222 930L222 1104Q373 1175 486 1276Q599 1377 646 1472L763 1472Z"/><path transform=" translate(825.45,675.37) scale(0.01318,-0.01318)" d="M763 0L583 0L583 1147Q518 1085 412 1023Q306 961 222 930L222 1104Q373 1175 486 1276Q599 1377 646 1472L763 1472Z"/><path transform=" translate(825.45,542.75) scale(0.01318,-0.01318)" d="M763 0L583 0L583 1147Q518 1085 412 1023Q306 961 222 930L222 1104Q373 1175 486 1276Q599 1377 646 1472L763 1472Z"/><path transform=" translate(48.45,1293.80) scale(0.01318,-0.01318)" d="M763 0L583 0L583 1147Q518 1085 412 1023Q306 961 222 930L222 1104Q373 1175 486 1276Q599 1377 646 1472L763 1472Z"/><path transform=" translate(48.45,1214.20) scale(0.01318,-0.01318)" d="M763 0L583 0L583 1147Q518 1085 412 1023Q306 961 222 930L222 1104Q373 1175 486 1276Q599 1377 646 1472L763 1472Z"/><path transform="translate(30.5,1242.2) rotate(-90) translate(175.15,-14.80) scale(0.01050,-0.01050)" d="M763 0L583 0L583 1147Q518 1085 412 1023Q306 961 222 930L222 1104Q373 1175 486 1276Q599 1377 646 1472L763 1472Z"/></g></svg></body></html>
